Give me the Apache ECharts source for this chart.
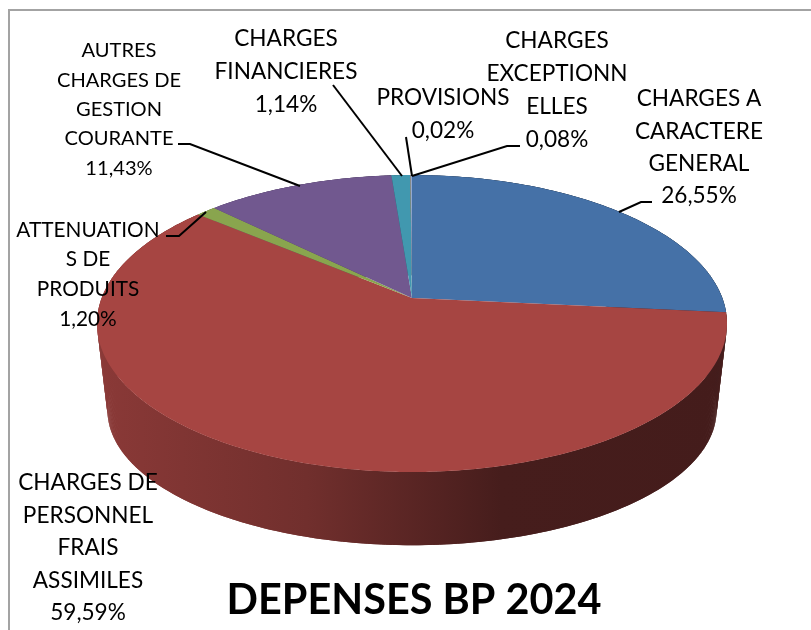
<!DOCTYPE html>
<html><head><meta charset="utf-8">
<style>html,body{margin:0;padding:0;background:#fff}#c{width:811px;height:630px}</style>
<script src="https://cdn.jsdelivr.net/npm/echarts@6/dist/echarts.min.js"></script>
</head><body><div id="c"></div>
<script>
const chartTitle = 'DEPENSES BP 2024';
const categories = ['CHARGES A\nCARACTERE\nGENERAL','CHARGES DE\nPERSONNEL\nFRAIS\nASSIMILES','ATTENUATION\nS DE\nPRODUITS','AUTRES\nCHARGES DE\nGESTION\nCOURANTE','CHARGES\nFINANCIERES','PROVISIONS','CHARGES\nEXCEPTIONN\nELLES'];
const values = [26.55,59.59,1.20,11.43,1.14,0.02,0.08];
const colors = ['#4571A7','#A64542','#89A54E','#71588F','#4198AF','#DB843D','#93A9CF'];

// layout of the perspective disc
const P = {cx:412, topY:298, topR:310.3, topK:144.1, botY:387, botR:300, botK:131, persp:0.172};
// label layout: centre x, y of first line, line height, font size, leader polyline
const labelLayout = [
  {x:699,y:99,lh:32.3,fs:22.6,line:[[652,202],[641,202],[619,212]]},
  {x:88,y:483,lh:32.5,fs:22.6,line:null},
  {x:88,y:230,lh:29.7,fs:20.8,line:[[166,236],[179,236],[206,212]]},
  {x:119,y:51,lh:29.3,fs:20.1,line:[[178,144],[190,144],[300,186]]},
  {x:286,y:39,lh:33,fs:22.6,line:[[333,85],[402,176]]},
  {x:443,y:98,lh:33,fs:22.6,line:[[406,137],[412,176]]},
  {x:557,y:41,lh:33,fs:22.6,line:[[520,146],[507,146],[412,176]]}
];
const total = values.reduce((a,b)=>a+b,0);
function bounds(i){
  let s=0; for(let j=0;j<i;j++) s+=values[j];
  return [s/total*Math.PI*2,(s+values[i])/total*Math.PI*2];
}
function ptTop(t){const w=1/(1+P.persp*Math.cos(t));return [P.cx+P.topR*Math.sin(t)*w,P.topY-P.topK*Math.cos(t)*w];}
function ptBot(t){const w=1/(1+P.persp*Math.cos(t));return [P.cx+P.botR*Math.sin(t)*w,P.botY-P.botK*Math.cos(t)*w];}
function arc(fn,a,b){const n=Math.max(2,Math.ceil((b-a)/0.01));const o=[];for(let i=0;i<=n;i++)o.push(fn(a+(b-a)*i/n));return o;}
function shade(c,f){
  const n=parseInt(c.slice(1),16);
  return 'rgb('+[(n>>16)&255,(n>>8)&255,n&255].map(v=>Math.round(v*f)).join(',')+')';
}
function wallFill(c){
  return {type:'linear',global:true,x:100,y:0,x2:727,y2:0,colorStops:[
    {offset:0,color:shade(c,0.83)},{offset:0.33,color:shade(c,0.68)},{offset:0.64,color:shade(c,0.42)},{offset:1,color:shade(c,0.41)}]};
}
const seriesData = values.map((v,i)=>({name:categories[i],value:v}));
const graphics = [
  {type:'polyline',silent:true,z:1,shape:{points:[[9,630],[9,10],[811,10]]},style:{stroke:'#a3a3a3',lineWidth:2,fill:null}}
];
labelLayout.forEach((l,i)=>{
  if(l.line) graphics.push({type:'polyline',silent:true,z:20,shape:{points:l.line},style:{stroke:'#000',lineWidth:2,fill:null}});
  const txt=categories[i]+'\n'+values[i].toFixed(2).replace('.',',')+'%';
  graphics.push({type:'text',silent:true,z:21,x:l.x,y:l.y-l.lh/2,style:{text:txt,fill:'#000',font:l.fs+'px Lato',align:'center',verticalAlign:'top',lineHeight:l.lh}});
});
graphics.push({type:'text',silent:true,z:21,x:414,y:601,style:{text:chartTitle,fill:'#000',font:'bold 41.4px Lato',align:'center',verticalAlign:'middle'}});

const option = {
  animation:false,
  backgroundColor:'#fff',
  tooltip:{show:false},
  graphic:graphics,
  series:[
    {type:'custom',coordinateSystem:'none',z:2,silent:true,data:seriesData,
     renderItem(params){
       const [a,b]=bounds(params.dataIndex);
       const fill=wallFill(colors[params.dataIndex]);
       const t=arc(ptTop,a,b), u=arc(ptBot,a,b), children=[];
       // overlapping quads: their union also gives the straight silhouette edges of the wall
       for(let i=0;i<t.length-1;i++){
         const j=Math.min(i+2,t.length-1);
         children.push({type:'polygon',shape:{points:[t[i],t[j],u[j],u[i]]},style:{fill}});
       }
       return {type:'group',children};
     }},
    {type:'custom',coordinateSystem:'none',z:3,silent:true,data:seriesData,
     renderItem(params){
       const [a,b]=bounds(params.dataIndex);
       const pts=[[P.cx,P.topY]].concat(arc(ptTop,a,b));
       return {type:'polygon',shape:{points:pts},style:{fill:colors[params.dataIndex]}};
     }}
  ]
};
echarts.init(document.getElementById('c'),null,{renderer:'canvas'}).setOption(option);
</script></body></html>
